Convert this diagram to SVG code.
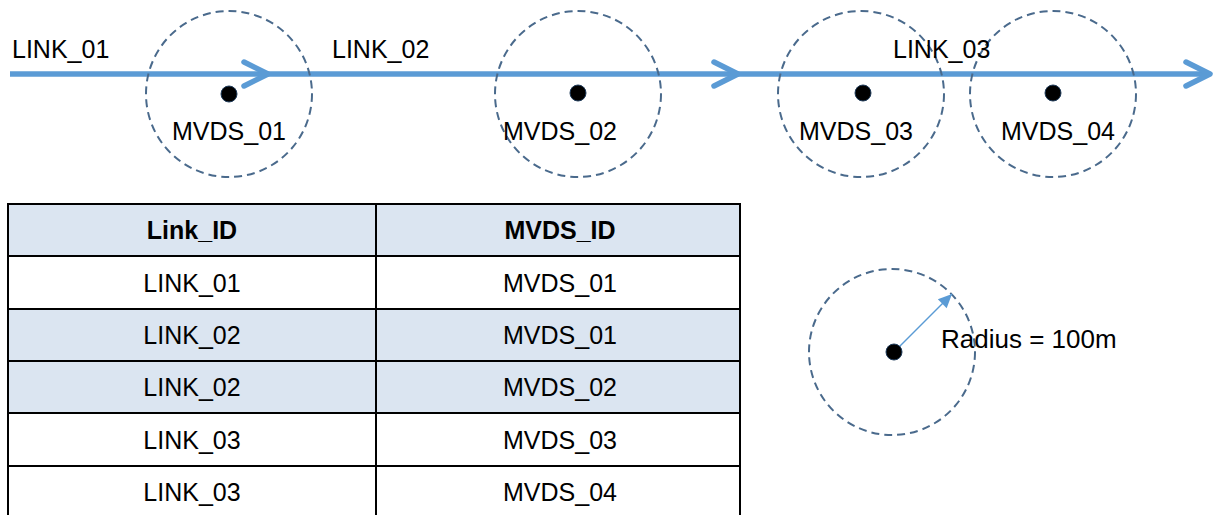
<svg xmlns="http://www.w3.org/2000/svg" width="1219" height="515" viewBox="0 0 1219 515">
<style>
text{font-family:"Liberation Sans",Arial,sans-serif;font-size:25px;fill:#000}
.c{text-anchor:middle}
.b{font-weight:bold}
.zone{fill:none;stroke:#4a6a8c;stroke-width:2;stroke-dasharray:8 5}
.dot{fill:#000;stroke:#1f3b5a;stroke-width:1}
.link{stroke:#5b9bd5;stroke-width:5.5;fill:none}
.cell{stroke:#000;stroke-width:2}
.hd{fill:#dbe5f1}
.wh{fill:#fff}
</style>
<defs>
<marker id="chev" markerUnits="userSpaceOnUse" markerWidth="40" markerHeight="40" viewBox="-30 -20 40 40" refX="0" refY="0" orient="auto">
<path d="M-24,-12 L0,0 L-24,12" fill="none" stroke="#5b9bd5" stroke-width="5.5" stroke-linecap="round" stroke-linejoin="round"/>
</marker>
<marker id="tri" markerUnits="userSpaceOnUse" markerWidth="20" markerHeight="20" viewBox="-12 -8 16 16" refX="0" refY="0" orient="auto">
<path d="M-11,-5 L0,0 L-11,5 Z" fill="#5b9bd5"/>
</marker>
</defs>
<g id="connectors">
<line id="link01" class="link" x1="10" y1="74" x2="268" y2="74" marker-end="url(#chev)"/>
<line id="link02" class="link" x1="268" y1="74" x2="738" y2="74" marker-end="url(#chev)"/>
<line id="link03" class="link" x1="738" y1="74" x2="1210" y2="74" marker-end="url(#chev)"/>
</g>
<g id="mvds01"><circle class="zone" cx="229" cy="94" r="83"/><circle class="dot" cx="229" cy="94" r="8"/><text class="c" x="229" y="140">MVDS_01</text></g>
<g id="mvds02"><circle class="zone" cx="578" cy="94" r="83"/><circle class="dot" cx="578" cy="93" r="8"/><text class="c" x="560" y="140">MVDS_02</text></g>
<g id="mvds03"><circle class="zone" cx="861" cy="94" r="83"/><circle class="dot" cx="863" cy="93" r="8"/><text class="c" x="856" y="140">MVDS_03</text></g>
<g id="mvds04"><circle class="zone" cx="1053" cy="94" r="83"/><circle class="dot" cx="1053" cy="93" r="8"/><text class="c" x="1058" y="140">MVDS_04</text></g>
<g id="labels">
<text x="12" y="58">LINK_01</text>
<text x="332" y="58">LINK_02</text>
<text x="893" y="58">LINK_03</text>
</g>
<g id="table">
<rect class="cell hd" x="8" y="204" width="368" height="52"/><rect class="cell hd" x="376" y="204" width="364" height="52"/>
<rect class="cell wh" x="8" y="256" width="368" height="53"/><rect class="cell wh" x="376" y="256" width="364" height="53"/>
<rect class="cell hd" x="8" y="309" width="368" height="52"/><rect class="cell hd" x="376" y="309" width="364" height="52"/>
<rect class="cell hd" x="8" y="361" width="368" height="52"/><rect class="cell hd" x="376" y="361" width="364" height="52"/>
<rect class="cell wh" x="8" y="413" width="368" height="53"/><rect class="cell wh" x="376" y="413" width="364" height="53"/>
<rect class="cell wh" x="8" y="466" width="368" height="60"/><rect class="cell wh" x="376" y="466" width="364" height="60"/>
<text class="c b" x="192" y="239">Link_ID</text><text class="c b" x="560" y="239">MVDS_ID</text>
<text class="c" x="192" y="292">LINK_01</text><text class="c" x="560" y="292">MVDS_01</text>
<text class="c" x="192" y="344">LINK_02</text><text class="c" x="560" y="344">MVDS_01</text>
<text class="c" x="192" y="396">LINK_02</text><text class="c" x="560" y="396">MVDS_02</text>
<text class="c" x="192" y="449">LINK_03</text><text class="c" x="560" y="449">MVDS_03</text>
<text class="c" x="192" y="501">LINK_03</text><text class="c" x="560" y="501">MVDS_04</text>
</g>
<g id="legend">
<circle class="zone" cx="892" cy="352" r="83"/>
<line x1="894" y1="352" x2="952" y2="294" stroke="#5b9bd5" stroke-width="1.5" marker-end="url(#tri)"/>
<circle class="dot" cx="894" cy="352" r="8"/>
<text x="941" y="348" style="font-size:26px">Radius = 100m</text>
</g>
</svg>
